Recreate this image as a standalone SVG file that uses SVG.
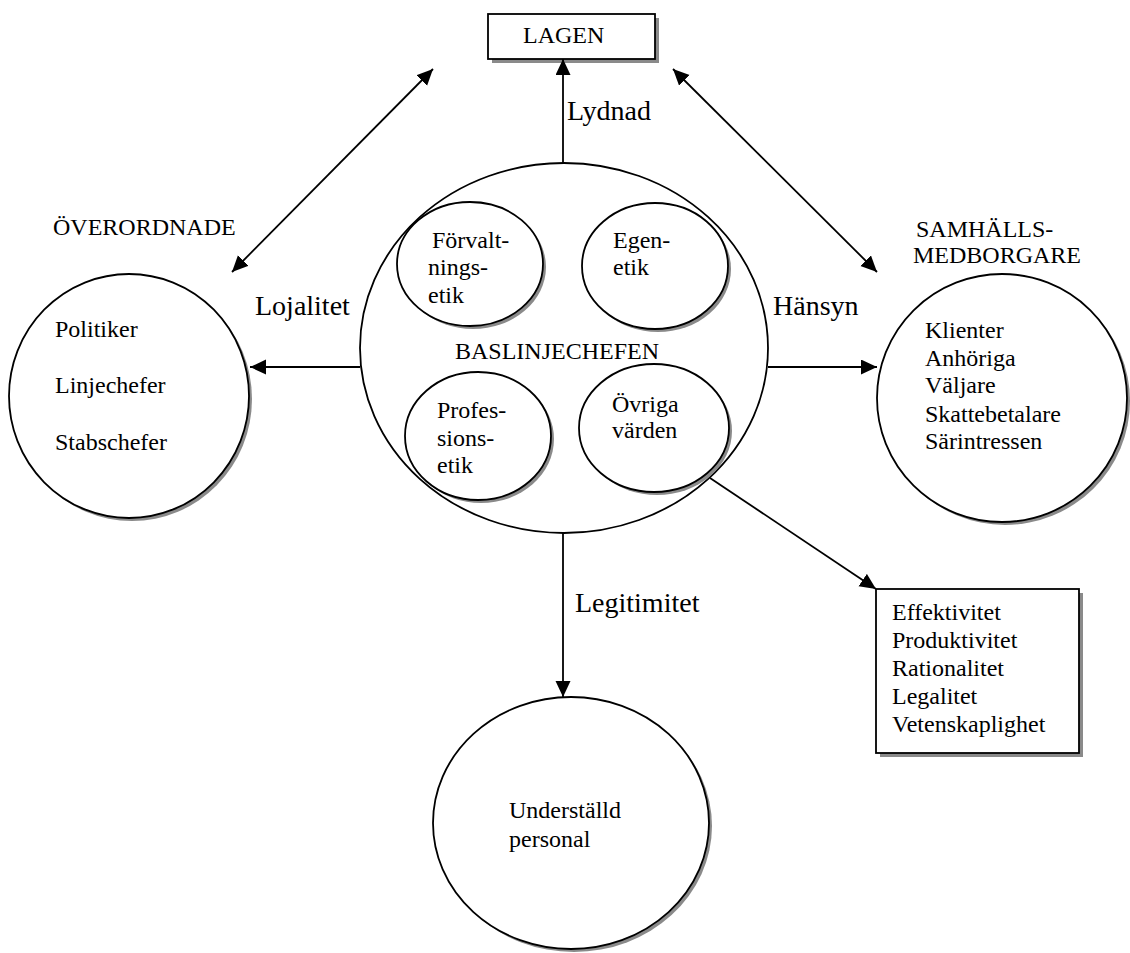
<svg xmlns="http://www.w3.org/2000/svg" width="1130" height="953" viewBox="0 0 1130 953">
<style>
.shape{fill:#fff;stroke:#000;stroke-width:1.8}
.shadow{fill:#8a8a8a;stroke:none}
.t{font-family:"Liberation Serif","Times New Roman",serif;font-size:24px;fill:#000}
.lbl{font-family:"Liberation Serif","Times New Roman",serif;font-size:28px;fill:#000}
.conn{stroke:#000;stroke-width:1.8;fill:none}
</style>
<defs>
<marker id="ah" markerUnits="userSpaceOnUse" markerWidth="17" markerHeight="16" refX="16" refY="7.5" orient="auto-start-reverse" viewBox="0 0 17 16">
<path d="M0,0 L16,7.5 L0,15 z" fill="#000"/>
</marker>
</defs>
<rect width="1130" height="953" fill="#fff"/>

<g id="lagen">
<rect class="shadow" x="492" y="18" width="167" height="45"/>
<rect class="shape" x="488" y="14" width="167" height="45"/>
<text class="t" x="523" y="43">LAGEN</text>
</g>

<g id="baslinjechefen">
<ellipse class="shape" cx="564" cy="348" rx="204" ry="185"/>
<text class="t" x="455" y="359">BASLINJECHEFEN</text>
</g>

<g id="forvaltningsetik">
<ellipse class="shadow" cx="473" cy="267" rx="73" ry="62"/>
<ellipse class="shape" cx="470" cy="264" rx="73" ry="62"/>
<text class="t"><tspan x="432" y="248">Förvalt-</tspan><tspan x="428" y="275">nings-</tspan><tspan x="428" y="303">etik</tspan></text>
</g>

<g id="egenetik">
<ellipse class="shadow" cx="658" cy="269" rx="73" ry="63"/>
<ellipse class="shape" cx="655" cy="266" rx="73" ry="63"/>
<text class="t"><tspan x="613" y="248">Egen-</tspan><tspan x="613" y="275">etik</tspan></text>
</g>

<g id="professionsetik">
<ellipse class="shadow" cx="481" cy="439" rx="73" ry="64"/>
<ellipse class="shape" cx="478" cy="436" rx="73" ry="64"/>
<text class="t"><tspan x="437" y="418">Profes-</tspan><tspan x="437" y="446">sions-</tspan><tspan x="437" y="473">etik</tspan></text>
</g>

<g id="ovriga">
<ellipse class="shadow" cx="657" cy="431" rx="75" ry="64"/>
<ellipse class="shape" cx="654" cy="428" rx="75" ry="64"/>
<text class="t"><tspan x="612" y="412">Övriga</tspan><tspan x="612" y="438">värden</tspan></text>
</g>

<g id="overordnade">
<text class="t" x="53" y="235">ÖVERORDNADE</text>
<ellipse class="shadow" cx="132" cy="399" rx="120" ry="122"/>
<ellipse class="shape" cx="129" cy="396" rx="120" ry="122"/>
<text class="t" x="55" y="337">Politiker</text>
<text class="t" x="55" y="393">Linjechefer</text>
<text class="t" x="55" y="450">Stabschefer</text>
</g>

<g id="samhallsmedborgare">
<text class="t"><tspan x="916" y="237">SAMHÄLLS-</tspan><tspan x="913" y="263">MEDBORGARE</tspan></text>
<ellipse class="shadow" cx="1005" cy="401" rx="125" ry="124"/>
<ellipse class="shape" cx="1002" cy="398" rx="125" ry="124"/>
<text class="t"><tspan x="925" y="338">Klienter</tspan><tspan x="925" y="366">Anhöriga</tspan><tspan x="925" y="393">Väljare</tspan><tspan x="925" y="422">Skattebetalare</tspan><tspan x="925" y="449">Särintressen</tspan></text>
</g>

<g id="personal">
<ellipse class="shadow" cx="574" cy="826" rx="138" ry="126"/>
<ellipse class="shape" cx="571" cy="823" rx="138" ry="126"/>
<text class="t"><tspan x="509" y="818">Underställd</tspan><tspan x="509" y="847">personal</tspan></text>
</g>

<g id="varden">
<rect class="shadow" x="880" y="593" width="203" height="164"/>
<rect class="shape" x="876" y="589" width="203" height="164"/>
<text class="t"><tspan x="892" y="620">Effektivitet</tspan><tspan x="892" y="648">Produktivitet</tspan><tspan x="892" y="676">Rationalitet</tspan><tspan x="892" y="704">Legalitet</tspan><tspan x="892" y="732">Vetenskaplighet</tspan></text>
</g>

<g id="connectors">
<line class="conn" x1="563" y1="164" x2="563" y2="59" marker-end="url(#ah)"/>
<line class="conn" x1="360" y1="367" x2="250" y2="367" marker-end="url(#ah)"/>
<line class="conn" x1="768" y1="367" x2="877" y2="367" marker-end="url(#ah)"/>
<line class="conn" x1="563" y1="533" x2="563" y2="697" marker-end="url(#ah)"/>
<line class="conn" x1="710" y1="478" x2="876" y2="589" marker-end="url(#ah)"/>
<line class="conn" x1="433" y1="69" x2="232" y2="272" marker-start="url(#ah)" marker-end="url(#ah)"/>
<line class="conn" x1="673" y1="69" x2="877" y2="272" marker-start="url(#ah)" marker-end="url(#ah)"/>
<text class="lbl" x="567" y="120">Lydnad</text>
<text class="lbl" x="255" y="315">Lojalitet</text>
<text class="lbl" x="773" y="315">Hänsyn</text>
<text class="lbl" x="575" y="612">Legitimitet</text>
</g>
</svg>
